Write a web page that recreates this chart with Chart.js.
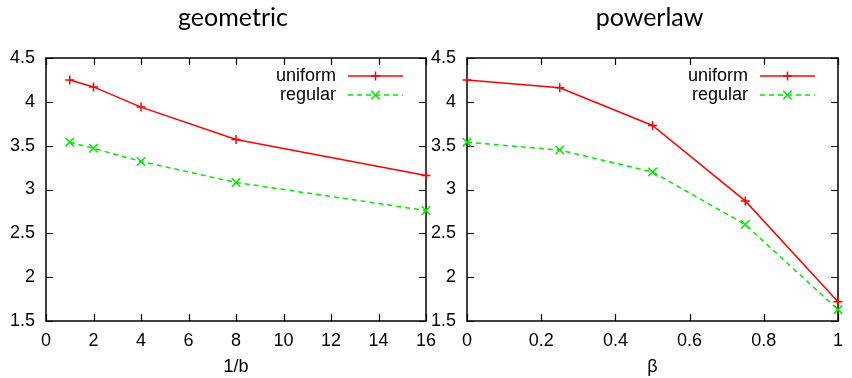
<!DOCTYPE html>
<html>
<head>
<meta charset="utf-8">
<script src="https://cdn.jsdelivr.net/npm/chart.js@4/dist/chart.umd.min.js"></script>
<style>
  html, body { margin: 0; padding: 0; background: #fff; }
  #wrap { position: relative; width: 852px; height: 378px; overflow: hidden; }
  canvas { position: absolute; top: 0; }
</style>
</head>
<body>
<div id="wrap">
  <canvas id="geo" width="446" height="378" style="left:0"></canvas>
  <canvas id="pow" width="426" height="378" style="left:426px"></canvas>
</div>
<script>
// data
const seriesNames = ["uniform", "regular"]

const geoTitle = "geometric"
const geoXLabel = "1/b"
const geoX = [1, 2, 4, 8, 16]
const geoUniform = [4.25, 4.17, 3.94, 3.57, 3.16]
const geoRegular = [3.54, 3.47, 3.32, 3.08, 2.76]

const powTitle = "powerlaw"
const powXLabel = "β"
const powX = [0, 0.25, 0.5, 0.75, 1]
const powUniform = [4.25, 4.16, 3.73, 2.87, 1.72]
const powRegular = [3.54, 3.45, 3.20, 2.60, 1.63]

// axis ranges [min, max, step]
const yRange = [1.5, 4.5, 0.5]
const geoXRange = [0, 16, 2]
const powXRange = [0, 1, 0.2]

Chart.defaults.color = "#000"
Chart.defaults.font.family = "'Liberation Sans', Arial, sans-serif"
Chart.defaults.font.size = 18

const TICK_FONT = "'Liberation Sans', Arial, sans-serif"

// draws a marker like Chart.js does, used for legend samples
function marker(ctx, style, r, x, y) {
  ctx.beginPath()
  if (style === "cross") {
    ctx.moveTo(x - r, y); ctx.lineTo(x + r, y)
    ctx.moveTo(x, y - r); ctx.lineTo(x, y + r)
  } else {
    const d = r * Math.SQRT1_2
    ctx.moveTo(x - d, y - d); ctx.lineTo(x + d, y + d)
    ctx.moveTo(x - d, y + d); ctx.lineTo(x + d, y - d)
  }
  ctx.stroke()
}

// gnuplot look: box border, mirrored inward ticks, title, key at top right
const gnuplotFrame = {
  id: "gnuplotFrame",
  beforeDatasetsDraw(chart, args, opts) {
    const { ctx, chartArea: a } = chart
    const xs = chart.scales.x, ys = chart.scales.y
    ctx.save()
    ctx.strokeStyle = "#000"
    ctx.lineWidth = 1.5
    ctx.strokeRect(a.left, a.top, a.right - a.left, a.bottom - a.top)
    ctx.lineWidth = 1.2
    ctx.beginPath()
    xs.ticks.forEach(t => {
      const px = Math.round(xs.getPixelForValue(t.value)) + 0.5
      ctx.moveTo(px, a.bottom); ctx.lineTo(px, a.bottom - 7)
      ctx.moveTo(px, a.top); ctx.lineTo(px, a.top + 7)
    })
    ys.ticks.forEach(t => {
      const py = Math.round(ys.getPixelForValue(t.value)) + 0.5
      ctx.moveTo(a.left, py); ctx.lineTo(a.left + 7, py)
      ctx.moveTo(a.right, py); ctx.lineTo(a.right - 7, py)
    })
    ctx.stroke()

    ctx.fillStyle = "#000"
    ctx.font = "25px Lato, 'Open Sans', sans-serif"
    ctx.textAlign = "center"
    ctx.textBaseline = "middle"
    ctx.fillText(opts.title, (a.left + a.right) / 2 - 3, 18)
    ctx.restore()
  },
  afterDatasetsDraw(chart) {
    const { ctx, chartArea: a } = chart
    ctx.save()
    chart.data.datasets.forEach((ds, i) => {
      const y = a.top + 18 + i * 19
      const x1 = a.right - 23, x0 = x1 - 55
      ctx.fillStyle = "#000"
      ctx.font = "18px " + TICK_FONT
      ctx.textAlign = "right"
      ctx.textBaseline = "middle"
      ctx.fillText(ds.label, x0 - 12, y)
      ctx.strokeStyle = ds.borderColor
      ctx.lineWidth = ds.borderWidth
      ctx.setLineDash(ds.borderDash || [])
      ctx.beginPath(); ctx.moveTo(x0, y); ctx.lineTo(x1, y); ctx.stroke()
      ctx.setLineDash([])
      ctx.lineWidth = ds.pointBorderWidth
      marker(ctx, ds.pointStyle, ds.pointRadius, (x0 + x1) / 2, y)
    })
    ctx.restore()
  }
}

function fmt(v) {
  return String(Math.round(v * 100) / 100)
}

function makeChart(id, cfg) {
  const lineSet = (label, xs, ys, color, dash, style, r) => ({
    label,
    data: xs.map((x, i) => ({ x, y: ys[i] })),
    borderColor: color,
    backgroundColor: color,
    borderWidth: 1.5,
    borderDash: dash,
    pointStyle: style,
    pointRadius: r,
    pointBorderWidth: 1.5,
    pointBorderColor: color,
    tension: 0,
    clip: false
  })

  return new Chart(document.getElementById(id), {
    type: "line",
    data: {
      datasets: [
        lineSet(seriesNames[0], cfg.x, cfg.uniform, "#ff0000", [], "cross", 4.5),
        lineSet(seriesNames[1], cfg.x, cfg.regular, "#00e800", [5, 4], "crossRot", 6)
      ]
    },
    options: {
      responsive: false,
      animation: false,
      layout: { padding: { left: 0, right: cfg.padRight, top: 58, bottom: 0 } },
      plugins: {
        legend: { display: false },
        tooltip: { enabled: false },
        gnuplotFrame: { title: cfg.title }
      },
      scales: {
        x: {
          type: "linear",
          min: cfg.xRange[0],
          max: cfg.xRange[1],
          grid: { display: false, drawTicks: false },
          border: { display: false },
          ticks: {
            stepSize: cfg.xRange[2],
            padding: 9,
            maxRotation: 0,
            autoSkip: false,
            callback: fmt
          },
          title: {
            display: true,
            text: cfg.xLabel,
            padding: { top: 0, bottom: 0 },
            font: { size: 18 }
          },
          afterFit(scale) { scale.height = 57 }
        },
        y: {
          min: yRange[0],
          max: yRange[1],
          grid: { display: false, drawTicks: false },
          border: { display: false },
          ticks: {
            stepSize: yRange[2],
            padding: 11,
            callback: fmt
          },
          afterFit(scale) { scale.width = cfg.yWidth }
        }
      }
    },
    plugins: [gnuplotFrame]
  })
}

makeChart("geo", {
  title: geoTitle, xLabel: geoXLabel, x: geoX, uniform: geoUniform, regular: geoRegular,
  xRange: geoXRange, yWidth: 46, padRight: 20
})
makeChart("pow", {
  title: powTitle, xLabel: powXLabel, x: powX, uniform: powUniform, regular: powRegular,
  xRange: powXRange, yWidth: 41, padRight: 5
})
</script>
</body>
</html>
